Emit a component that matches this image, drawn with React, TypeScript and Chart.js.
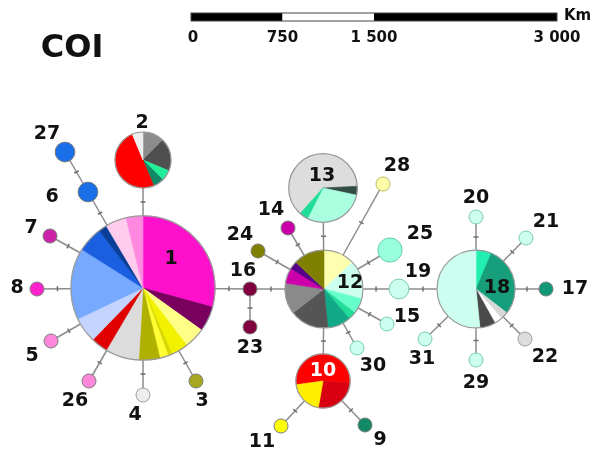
import { useEffect, useRef } from 'react';
import { Chart, registerables } from 'chart.js';

Chart.register(...registerables);

// ---------- DATA ----------
const chartTitle = 'COI';
const haplotypes = ['1','2','3','4','5','6','7','8','9','10','11','12','13','14','15','16','17','18','19','20','21','22','23','24','25','26','27','28','29','30','31'];

// individuals per sampling group (pie slices, clockwise)
const hap1 = [31, 6, 5, 4, 1, 2, 5, 8, 4, 6, 17, 6, 2, 5, 4];
const hap2 = [2, 3, 1, 1, 8, 1];
const hap10 = [8, 4, 3];
const hap12 = [4, 5, 2, 1, 3, 5, 4, 2, 1, 4];
const hap13 = [15, 1, 7, 1];
const hap18 = [2, 9, 1, 1, 2, 16];
// haplotypes with a single group
const singleCounts: Record<string, number> = { '6': 2, '19': 2, '25': 3, '27': 2 };

const edges: [string, string][] = [
  ['1','2'],['1','6'],['6','27'],['1','7'],['1','8'],['1','5'],['1','26'],['1','4'],['1','3'],
  ['1','16'],['16','23'],['16','12'],['24','12'],['14','12'],['12','13'],['12','28'],['12','25'],
  ['12','19'],['19','18'],['12','15'],['12','30'],['12','10'],['10','11'],['10','9'],
  ['18','20'],['18','21'],['18','17'],['18','22'],['18','29'],['18','31'],
];

const scaleKm = [0, 750, 1500, 3000];
const scaleLabels = ['0', '750', '1 500', '3 000'];
const scaleUnit = 'Km';

// ---------- LAYOUT ----------
const nodeX = [143,143,196,143,51,88,50,37,365,323,281,324,323,288,387,250,546,476,399,476,526,525,250,258,390,89,65,383,476,357,425];
const nodeY = [288,160,381,395,341,192,236,289,425,381,426,289,188,228,324,289,289,289,289,217,238,339,327,251,250,381,152,184,360,348,339];
const labelX = [171,142,202,135,32,52,31,17,380,323,262,350,322,271,407,243,575,497,418,476,546,545,250,240,420,75,47,397,476,373,422];
const labelY = [259,123,401,415,356,197,228,288,440,371,442,283,176,210,317,271,289,288,272,198,222,357,348,235,234,401,134,166,383,366,359];
const pieRotation: Record<string, number> = { '10': 262, '13': 222 };
const radiusUnit = 7;

// ---------- STYLE ----------
const pieColors: Record<string, string[]> = {
  '1': ['#ff11cc','#7a0060','#ffff88','#f2f200','#d8d800','#ffff33','#b0b000','#dcdcdc','#e00000','#c4d4ff','#77aaff','#1a5fe0','#0a3f99','#ffccee','#ff88e0'],
  '2': ['#8c8c8c','#4f4f4f','#22ee99','#118866','#ff0000','#eeeeee'],
  '10': ['#ff0000','#d80010','#ffee00'],
  '12': ['#ffffb0','#ccffee','#66ffcc','#22dd99','#11aa88','#555555','#8a8a8a','#cc00aa','#55008a','#7f7f00'],
  '13': ['#dddddd','#334d44','#aaffe0','#22dd99'],
  '18': ['#22f0b0','#169f7a','#d8d8d8','#ffffff','#4a4a4a','#ccfff0'],
};
const singleColors: Record<string, string> = {
  '3':'#a8a820','4':'#eeeeee','5':'#ff88dd','6':'#1a6fe8','7':'#cc22aa','8':'#ff22cc','9':'#118866',
  '11':'#ffff00','14':'#cc00aa','15':'#ccfff0','16':'#800040','17':'#119977','19':'#ccfff0','20':'#ccfff0',
  '21':'#ccfff0','22':'#dddddd','23':'#800040','24':'#808000','25':'#99ffdd','26':'#ff88dd','27':'#1a6fe8',
  '28':'#ffffaa','29':'#ccfff0','30':'#ccfff0','31':'#ccfff0',
};
const singleBorders: Record<string, string> = {
  '4':'#9a9a9a','15':'#77ccaa','19':'#77ccaa','20':'#77ccaa','21':'#77ccaa','22':'#999999','25':'#66ccaa',
  '28':'#bbbb66','29':'#77ccaa','30':'#77ccaa','31':'#77ccaa',
};

const composites: Record<string, number[]> = { '1': hap1, '2': hap2, '10': hap10, '12': hap12, '13': hap13, '18': hap18 };
const hapCounts = haplotypes.map((id) => composites[id] ?? [singleCounts[id] ?? 1]);
const hapTotals = hapCounts.map((c) => c.reduce((a, b) => a + b, 0));
const idx = (id: string) => haplotypes.indexOf(id);

const FONT = '"DejaVu Sans", Verdana, sans-serif';

const networkPlugin = {
  id: 'network',
  afterDatasetsDraw(chart: any) {
    const ctx: CanvasRenderingContext2D = chart.ctx;
    const xs = chart.scales.x;
    const ys = chart.scales.y;
    const nodeMeta = chart.getDatasetMeta(0);
    const pr = (i: number) => {
      const el: any = nodeMeta.data[i];
      return { x: el.x, y: el.y, r: el.options.radius };
    };
    // mutation ticks
    ctx.save();
    ctx.strokeStyle = '#6f6f6f';
    ctx.lineWidth = 1.5;
    edges.forEach(([a, b]) => {
      const A = pr(idx(a));
      const B = pr(idx(b));
      const dx = B.x - A.x, dy = B.y - A.y;
      const L = Math.hypot(dx, dy);
      const t = (A.r + (L - B.r)) / 2 / L;
      const mx = A.x + dx * t, my = A.y + dy * t;
      const nx = -dy / L, ny = dx / L;
      ctx.beginPath();
      ctx.moveTo(mx - nx * 2.5, my - ny * 2.5);
      ctx.lineTo(mx + nx * 2.5, my + ny * 2.5);
      ctx.stroke();
    });
    ctx.restore();
    // pies
    haplotypes.forEach((id, i) => {
      const counts = hapCounts[i];
      if (counts.length < 2) return;
      const { x, y, r } = pr(i);
      const total = hapTotals[i];
      let a = ((pieRotation[id] ?? 0) - 90) * Math.PI / 180;
      counts.forEach((c, k) => {
        const span = (c / total) * Math.PI * 2;
        ctx.beginPath();
        ctx.moveTo(x, y);
        ctx.arc(x, y, r, a, a + span);
        ctx.closePath();
        ctx.fillStyle = pieColors[id][k];
        ctx.fill();
        ctx.strokeStyle = pieColors[id][k];
        ctx.lineWidth = 0.6;
        ctx.stroke();
        a += span;
      });
      ctx.beginPath();
      ctx.arc(x, y, r, 0, Math.PI * 2);
      ctx.strokeStyle = '#9a9a9a';
      ctx.lineWidth = 1.2;
      ctx.stroke();
    });
    // labels
    ctx.save();
    ctx.font = `bold 19px ${FONT}`;
    ctx.textAlign = 'center';
    ctx.textBaseline = 'middle';
    haplotypes.forEach((id, i) => {
      ctx.fillStyle = id === '10' ? '#ffffff' : '#111111';
      ctx.fillText(id, xs.getPixelForValue(labelX[i]), ys.getPixelForValue(labelY[i]));
    });
    // title
    ctx.font = `bold 32px ${FONT}`;
    ctx.fillStyle = '#111111';
    ctx.fillText(chartTitle, xs.getPixelForValue(72), ys.getPixelForValue(49));
    // scale bar
    const kmToX = (km: number) => xs.getPixelForValue(191 + (km / 3000) * 366);
    const barTop = ys.getPixelForValue(13);
    const barH = 8;
    for (let k = 0; k < scaleKm.length - 1; k++) {
      const x0 = kmToX(scaleKm[k]);
      const x1 = kmToX(scaleKm[k + 1]);
      ctx.fillStyle = k % 2 === 0 ? '#000000' : '#ffffff';
      ctx.fillRect(x0, barTop, x1 - x0, barH);
    }
    ctx.strokeStyle = '#444444';
    ctx.lineWidth = 1;
    ctx.strokeRect(kmToX(0), barTop, kmToX(3000) - kmToX(0), barH);
    ctx.font = `bold 15px ${FONT}`;
    ctx.fillStyle = '#111111';
    scaleKm.forEach((km, k) => {
      ctx.fillText(scaleLabels[k], kmToX(km) + (k === 0 ? 2 : 0), ys.getPixelForValue(38));
    });
    ctx.textAlign = 'left';
    ctx.fillText(scaleUnit, kmToX(3000) + 7, ys.getPixelForValue(16));
    ctx.restore();
  },
};

export default function App() {
  const ref = useRef<HTMLCanvasElement>(null);
  useEffect(() => {
    if (!ref.current) return;
    const nodeData = haplotypes.map((_, i) => ({ x: nodeX[i], y: nodeY[i], r: radiusUnit * Math.sqrt(hapTotals[i]) }));
    const bg = haplotypes.map((id) => (composites[id] ? 'rgba(0,0,0,0)' : singleColors[id]));
    const bd = haplotypes.map((id) => (composites[id] ? 'rgba(0,0,0,0)' : singleBorders[id] ?? '#7a7a7a'));
    const edgeSets = edges.map(([a, b]) => ({
      type: 'scatter' as const,
      data: [
        { x: nodeX[idx(a)], y: nodeY[idx(a)] },
        { x: nodeX[idx(b)], y: nodeY[idx(b)] },
      ],
      showLine: true,
      borderColor: '#8c8c8c',
      borderWidth: 1.5,
      pointRadius: 0,
      order: 1,
    }));
    const chart = new Chart(ref.current, {
      type: 'bubble',
      data: {
        datasets: [
          {
            type: 'bubble',
            data: nodeData,
            backgroundColor: bg,
            borderColor: bd,
            borderWidth: 1,
            order: 0,
          } as any,
          ...edgeSets,
        ],
      },
      options: {
        animation: false,
        responsive: true,
        maintainAspectRatio: false,
        events: [],
        layout: { padding: 0, autoPadding: false },
        plugins: { legend: { display: false }, tooltip: { enabled: false } },
        scales: {
          x: { type: 'linear', min: 0, max: 594, display: false },
          y: { type: 'linear', min: 0, max: 454, reverse: true, display: false },
        },
      },
      plugins: [networkPlugin],
    });
    return () => chart.destroy();
  }, []);
  return (
    <div style={{ position: 'absolute', left: 0, top: 0, width: 594, height: 454, background: '#ffffff' }}>
      <canvas ref={ref} />
    </div>
  );
}
